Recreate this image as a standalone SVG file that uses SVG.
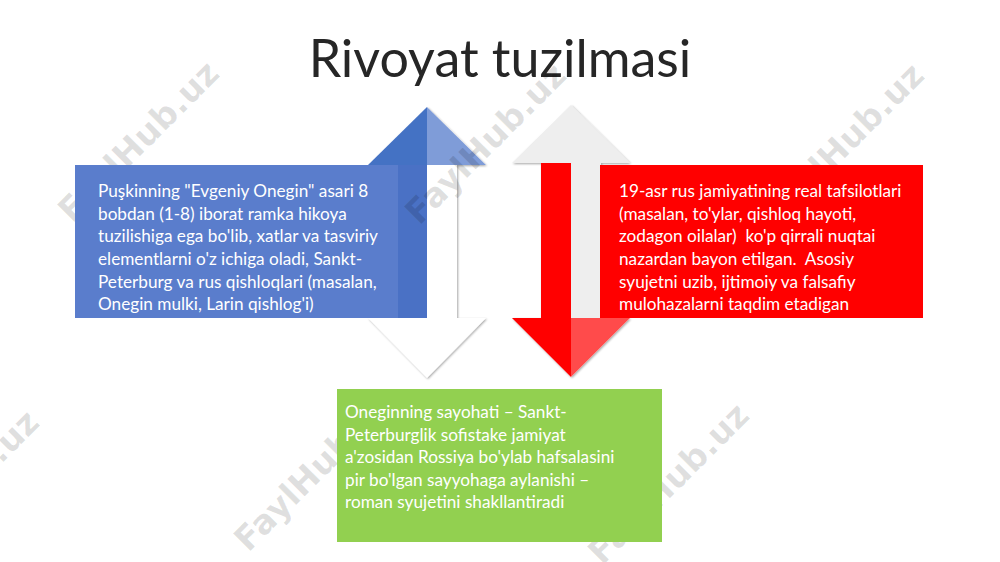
<svg xmlns="http://www.w3.org/2000/svg" width="1000" height="562" viewBox="0 0 1000 562">
<defs>
<style>
.wm{font-family:"DejaVu Sans",sans-serif;font-weight:bold;font-size:34px;fill:#000000;fill-opacity:0.12;}
.title{font-family:Lato,"Liberation Sans",sans-serif;font-size:52px;fill:#262626;}
.bt{font-family:Lato,"Liberation Sans",sans-serif;font-size:17.2px;fill:#ffffff;}
</style>
<filter id="sh" x="-20%" y="-20%" width="140%" height="140%">
<feDropShadow dx="1" dy="1" stdDeviation="1.2" flood-color="#000" flood-opacity="0.35"/>
</filter>
<clipPath id="cb"><rect x="75" y="165" width="323" height="153"/></clipPath>
<clipPath id="cr"><rect x="600" y="165" width="323" height="153"/></clipPath>
</defs>
<rect width="1000" height="562" fill="#ffffff"/>
<text id="title" class="title" x="500" y="77" text-anchor="middle">Rivoyat tuzilmasi</text>
<g id="connectors">
<g id="arrow-left">
<g filter="url(#sh)">
<polygon points="427,107 486,165 457,165 457,318 486,318 427,378 368,318 397,318 397,165 368,165" fill="#ffffff"/>
</g>
<polygon points="427,107 427,165 368,165" fill="#4472c4"/>
<polygon points="427,107 486,165 427,165" fill="#7f9cd8"/>
<rect x="397" y="165" width="30" height="153" fill="#4a71c5"/>
</g>
<g id="arrow-right">
<g filter="url(#sh)">
<polygon points="571,105 630,163 601,163 601,318 630,318 571,377 512,318 541,318 541,163 512,163" fill="#eeeeee"/>
</g>
<rect x="541" y="163" width="30" height="155" fill="#ff0000"/>
<polygon points="512,318 571,318 571,377" fill="#ff0000"/>
<polygon points="571,318 630,318 571,377" fill="#ff4b4b"/>
</g>
</g>
<g id="watermarks">
<text class="wm" transform="translate(140,143) rotate(-45)" text-anchor="middle" dominant-baseline="middle">FaylHub.uz</text>
<text class="wm" transform="translate(487,145) rotate(-45)" text-anchor="middle" dominant-baseline="middle">FaylHub.uz</text>
<text class="wm" transform="translate(845,145) rotate(-45)" text-anchor="middle" dominant-baseline="middle">FaylHub.uz</text>
<text class="wm" transform="translate(-40,492) rotate(-45)" text-anchor="middle" dominant-baseline="middle">FaylHub.uz</text>
<text class="wm" transform="translate(316,472) rotate(-45)" text-anchor="middle" dominant-baseline="middle">FaylHub.uz</text>
<text class="wm" transform="translate(670,485) rotate(-45)" text-anchor="middle" dominant-baseline="middle">FaylHub.uz</text>
</g>
<g id="node-blue">
<rect x="75" y="165" width="323" height="153" fill="#5a7dcc"/>
<g clip-path="url(#cb)">
<text class="bt" x="98" y="197">Puşkinning "Evgeniy Onegin" asari 8</text>
<text class="bt" x="98" y="220">bobdan (1-8) iborat ramka hikoya</text>
<text class="bt" x="98" y="242">tuzilishiga ega bo'lib, xatlar va tasviriy</text>
<text class="bt" x="98" y="265">elementlarni o'z ichiga oladi, Sankt-</text>
<text class="bt" x="98" y="288">Peterburg va rus qishloqlari (masalan,</text>
<text class="bt" x="98" y="310">Onegin mulki, Larin qishlog'i)</text>
</g>
</g>
<g id="node-red">
<rect x="600" y="165" width="323" height="153" fill="#ff0000"/>
<g clip-path="url(#cr)">
<text class="bt" x="619" y="197">19-asr rus jamiyatining real tafsilotlari</text>
<text class="bt" x="619" y="220">(masalan, to'ylar, qishloq hayoti,</text>
<text class="bt" x="619" y="242" xml:space="preserve">zodagon oilalar)  ko'p qirrali nuqtai</text>
<text class="bt" x="619" y="265" xml:space="preserve">nazardan bayon etilgan.  Asosiy</text>
<text class="bt" x="619" y="288">syujetni uzib, ijtimoiy va falsafiy</text>
<text class="bt" x="619" y="310">mulohazalarni taqdim etadigan</text>
</g>
</g>
<g id="node-green">
<rect x="337" y="389" width="325" height="153" fill="#92d050"/>
<text class="bt" x="345" y="418">Oneginning sayohati – Sankt-</text>
<text class="bt" x="345" y="441">Peterburglik sofistake jamiyat</text>
<text class="bt" x="345" y="463">a'zosidan Rossiya bo'ylab hafsalasini</text>
<text class="bt" x="345" y="486">pir bo'lgan sayyohaga aylanishi –</text>
<text class="bt" x="345" y="508">roman syujetini shakllantiradi</text>
</g>
</svg>
